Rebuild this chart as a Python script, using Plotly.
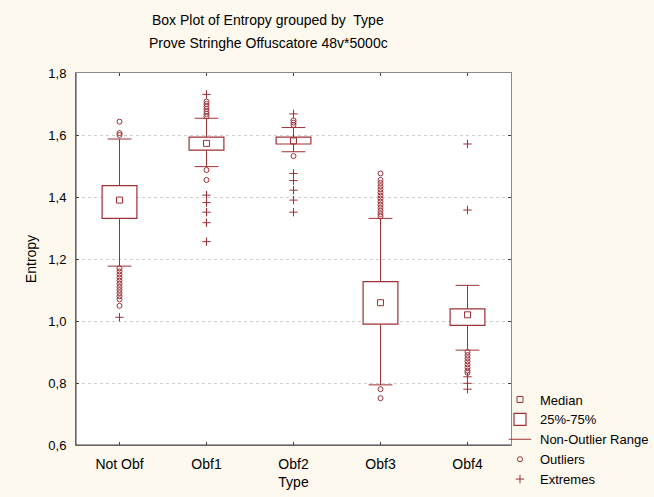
import plotly.graph_objects as go

# ---- data ----
categories = ["Not Obf", "Obf1", "Obf2", "Obf3", "Obf4"]
median = [1.390, 1.573, 1.581, 1.059, 1.020]
q1 = [1.331, 1.551, 1.571, 0.990, 0.986]
q3 = [1.437, 1.593, 1.593, 1.127, 1.039]
whisk_lo = [1.177, 1.498, 1.546, 0.794, 0.906]
whisk_hi = [1.587, 1.654, 1.624, 1.331, 1.115]

outliers_not_obf = [1.643, 1.606, 1.600, 1.170, 1.160, 1.150, 1.140, 1.130, 1.120,
                    1.110, 1.100, 1.090, 1.080, 1.070, 1.049]
outliers_obf1 = [1.660, 1.668, 1.676, 1.684, 1.692, 1.700, 1.708, 1.487, 1.455]
outliers_obf2 = [1.632, 1.640, 1.647, 1.532]
outliers_obf3 = [1.476, 1.455, 1.445, 1.435, 1.425, 1.415, 1.405, 1.395, 1.385,
                 1.375, 1.365, 1.355, 1.345, 1.337, 0.780, 0.751]
outliers_obf4 = [0.900, 0.890, 0.880, 0.870, 0.860, 0.850, 0.840, 0.833]

extremes_not_obf = [1.012]
extremes_obf1 = [1.731, 1.406, 1.382, 1.351, 1.317, 1.256]
extremes_obf2 = [1.668, 1.476, 1.453, 1.422, 1.390, 1.351]
extremes_obf3 = []
extremes_obf4 = [1.571, 1.358, 0.820, 0.799, 0.780]

y_ticks = [0.6, 0.8, 1.0, 1.2, 1.4, 1.6, 1.8]

outliers = [outliers_not_obf, outliers_obf1, outliers_obf2, outliers_obf3, outliers_obf4]
extremes = [extremes_not_obf, extremes_obf1, extremes_obf2, extremes_obf3, extremes_obf4]

RED = "#9E3036"
BG = "#FEF9EF"
FONT = "Arial, Liberation Sans, sans-serif"
pos = list(range(len(categories)))

fig = go.Figure()

# box 25%-75%
fig.add_trace(go.Bar(
    x=pos, y=[b - a for a, b in zip(q1, q3)], base=q1, width=0.4,
    marker=dict(color="white", line=dict(color=RED, width=1.2)),
    name="25%-75%", legendrank=2, hoverinfo="skip"))

# whisker lines
wx, wy = [], []
for i in pos:
    wx += [i, i, None, i, i, None]
    wy += [q3[i], whisk_hi[i], None, q1[i], whisk_lo[i], None]
fig.add_trace(go.Scatter(x=wx, y=wy, mode="lines", line=dict(color=RED, width=1),
                         showlegend=False, hoverinfo="skip"))

# whisker caps
cx, cy = [], []
for i in pos:
    cx += [i, i]
    cy += [whisk_lo[i], whisk_hi[i]]
fig.add_trace(go.Scatter(x=cx, y=cy, mode="markers",
                         marker=dict(symbol="line-ew", size=17, line=dict(color=RED, width=1)),
                         name="Non-Outlier Range", legendrank=3))

# median
fig.add_trace(go.Scatter(x=pos, y=median, mode="markers",
                         marker=dict(symbol="square-open", size=6, color=RED, line=dict(width=1)),
                         name="Median", legendrank=1))

# outliers
ox, oy = [], []
for i in pos:
    ox += [i] * len(outliers[i])
    oy += outliers[i]
fig.add_trace(go.Scatter(x=ox, y=oy, mode="markers",
                         marker=dict(symbol="circle-open", size=5, color=RED, line=dict(width=1)),
                         name="Outliers", legendrank=4))

# extremes
ex, ey = [], []
for i in pos:
    ex += [i] * len(extremes[i])
    ey += extremes[i]
fig.add_trace(go.Scatter(x=ex, y=ey, mode="markers",
                         marker=dict(symbol="cross-thin-open", size=6, color=RED, line=dict(width=1)),
                         name="Extremes", legendrank=5))

fig.update_layout(
    width=654, height=497,
    margin=dict(l=76, r=143, t=73, b=52, autoexpand=False),
    paper_bgcolor=BG, plot_bgcolor="white",
    separators=",.",
    font=dict(family=FONT, size=13, color="black"),
    showlegend=True,
    legend=dict(x=0.9747, xanchor="left", y=0.1626, yanchor="top",
                bgcolor="rgba(0,0,0,0)", font=dict(size=13), traceorder="normal"),
    xaxis=dict(range=[-0.5, 4.5], tickvals=pos, ticktext=categories,
               tickfont=dict(size=14), automargin=False,
               showline=True, linecolor="#8a8a8a", linewidth=1, mirror="ticks",
               ticks="inside", ticklen=3, tickcolor="#404040", showgrid=False, zeroline=False,
               ticklabelstandoff=6,
               title=dict(text="Type", standoff=6, font=dict(size=14))),
    yaxis=dict(range=[0.6, 1.8], tickvals=y_ticks, tickformat=".1f",
               tickfont=dict(size=13), automargin=False,
               showline=True, linecolor="#8a8a8a", linewidth=1, mirror="ticks",
               ticks="inside", ticklen=3, tickcolor="#404040",
               showgrid=True, gridcolor="#CFCFCF", griddash="dot", gridwidth=1, zeroline=False,
               ticklabelstandoff=6,
               title=dict(text="Entropy", standoff=8, font=dict(size=14))),
    annotations=[
        dict(text="Box Plot of Entropy grouped by  Type", xref="paper", yref="paper",
             x=0.442, y=1.1425, xanchor="center", yanchor="middle", showarrow=False,
             font=dict(size=14)),
        dict(text="Prove Stringhe Offuscatore 48v*5000c", xref="paper", yref="paper",
             x=0.442, y=1.0806, xanchor="center", yanchor="middle", showarrow=False,
             font=dict(size=14)),
    ],
    shapes=[
        dict(type="line", xref="paper", yref="paper", x0=0, x1=0, y0=0, y1=1,
             line=dict(color="#404040", width=1), layer="above"),
        dict(type="line", xref="paper", yref="paper", x0=0, x1=1, y0=0, y1=0,
             line=dict(color="#404040", width=1), layer="above"),
    ],
)

fig.write_html("out.html", config={"displayModeBar": False},
               post_script="document.body.style.margin='0';document.body.style.background='" + BG + "';")
